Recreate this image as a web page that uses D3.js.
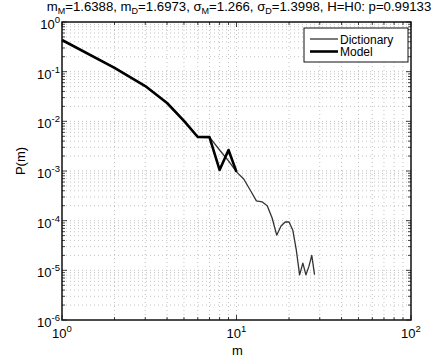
<!DOCTYPE html>
<html>
<head>
<meta charset="utf-8">
<script src="https://cdnjs.cloudflare.com/ajax/libs/d3/7.8.5/d3.min.js"></script>
<style>
  body { margin: 0; background: #fff; }
  svg { font-family: "Liberation Sans", Arial, sans-serif; }
</style>
</head>
<body>
<div id="chart"></div>
<script>
// word length m and the two distributions
const mValues = [1, 2, 3, 4, 5, 6, 7, 8, 9, 10, 11, 12, 13, 14, 15, 16, 17, 18, 19, 20, 21, 22, 23, 24, 25, 26, 27, 28];
const dictionary = [0.434, 0.121, 0.0514, 0.0234, 0.0102, 0.00484, 0.0048, 0.00265, 0.0016, 0.00096,
  0.00069, 0.00041, 0.00025, 0.00024, 0.0002, 0.000113, 0.000051, 0.000078, 0.000094, 0.000094,
  0.000065, 0.000026, 0.0000081, 0.000014, 0.0000081, 0.000012, 0.00002, 0.0000082];
const modelM = [1, 2, 3, 4, 5, 6, 7, 8, 9, 10];
const model = [0.434, 0.119, 0.0514, 0.0234, 0.0102, 0.00484, 0.0048, 0.00105, 0.00265, 0.00096];
const xTickExp = [0, 1, 2];
const yTickExp = [0, -1, -2, -3, -4, -5, -6];
const seriesNames = ['Dictionary', 'Model'];

const width = 446, height = 357
  , margin = {top: 22, right: 35, bottom: 37, left: 62}
  , cw = width - margin.left - margin.right
  , ch = height - margin.top - margin.bottom;

const x = d3.scaleLog().domain([1, 100]).range([0, cw])
  , y = d3.scaleLog().domain([1e-6, 1]).range([ch, 0]);

// minor positions for ticks and dotted grid
const xMinor = d3.range(0, 2).flatMap(e => d3.range(1, 10).map(k => k * Math.pow(10, e))).concat([100])
  , yMinor = d3.range(-6, 0).flatMap(e => d3.range(1, 10).map(k => k * Math.pow(10, e))).concat([1]);

const svg = d3.select('#chart').append('svg')
  .attr('width', width).attr('height', height);

// title with subscripts
const title = svg.append('text')
  .attr('x', 239).attr('y', 11)
  .attr('text-anchor', 'middle')
  .attr('font-size', 13.2).attr('fill', '#000');
[['m', 'M', '=1.6388, '], ['m', 'D', '=1.6973, '], ['\u03c3', 'M', '=1.266, '], ['\u03c3', 'D', '=1.3998, H=H0: p=0.99133']]
  .forEach(([a, s, b]) => {
    title.append('tspan').text(a);
    title.append('tspan').attr('dy', 3).attr('font-size', 9).text(s);
    title.append('tspan').attr('dy', -3).text(b);
  });

const g = svg.append('g').attr('transform', `translate(${margin.left},${margin.top})`);

// dotted grid
g.append('g').attr('class', 'grid')
  .selectAll('line.vx').data(xMinor.slice(1, -1))
  .join('line').attr('class', 'vx')
  .attr('x1', d => x(d)).attr('x2', d => x(d))
  .attr('y1', 0).attr('y2', ch);
g.select('g.grid')
  .selectAll('line.hy').data(yMinor.slice(1, -1))
  .join('line').attr('class', 'hy')
  .attr('y1', d => y(d)).attr('y2', d => y(d))
  .attr('x1', 0).attr('x2', cw);
g.selectAll('g.grid line')
  .attr('stroke', '#b4b4b4').attr('stroke-width', 0.8)
  .attr('stroke-dasharray', '1,3');

// inward ticks, all four sides
const isMajor = d => Math.abs(Math.log10(d) - Math.round(Math.log10(d))) < 1e-9;
const ticks = g.append('g').attr('stroke', '#111').attr('stroke-width', 0.8);
[0, ch].forEach((y0, i) => {
  ticks.selectAll(null).data(xMinor)
    .join('line')
    .attr('x1', d => x(d)).attr('x2', d => x(d))
    .attr('y1', y0).attr('y2', d => y0 + (i ? -1 : 1) * (isMajor(d) ? 5 : 3));
});
[0, cw].forEach((x0, i) => {
  ticks.selectAll(null).data(yMinor)
    .join('line')
    .attr('y1', d => y(d)).attr('y2', d => y(d))
    .attr('x1', x0).attr('x2', d => x0 + (i ? -1 : 1) * (isMajor(d) ? 5 : 3));
});

// curves
const line = d3.line().x(d => x(d[0])).y(d => y(d[1]));
const curves = [
  {name: 'Dictionary', pts: d3.zip(mValues, dictionary), stroke: '#333', w: 1.3},
  {name: 'Model', pts: d3.zip(modelM, model), stroke: '#000', w: 2.6}
];
g.selectAll('path.curve').data(curves)
  .join('path').attr('class', 'curve')
  .attr('d', d => line(d.pts))
  .attr('fill', 'none')
  .attr('stroke', d => d.stroke).attr('stroke-width', d => d.w)
  .attr('stroke-linejoin', 'round');

// frame
g.append('rect').attr('width', cw).attr('height', ch)
  .attr('fill', 'none').attr('stroke', '#111').attr('stroke-width', 1.5);

// tick labels: 10 with superscript exponent
const expLabel = (sel) => {
  sel.append('tspan').text('10');
  sel.append('tspan').attr('dy', -6).attr('font-size', 9.5).text(d => d);
};
svg.selectAll('text.xt').data(xTickExp)
  .join('text').attr('class', 'xt')
  .attr('x', d => margin.left + x(Math.pow(10, d)))
  .attr('y', margin.top + ch + 18)
  .attr('text-anchor', 'middle').attr('font-size', 13).attr('fill', '#000')
  .call(expLabel);
svg.selectAll('text.yt').data(yTickExp)
  .join('text').attr('class', 'yt')
  .attr('x', margin.left - 2)
  .attr('y', d => margin.top + y(Math.pow(10, d)) + 7)
  .attr('text-anchor', 'end').attr('font-size', 13).attr('fill', '#000')
  .call(expLabel);

// axis titles
svg.append('text')
  .attr('x', margin.left + cw / 2 + 1).attr('y', height - 2)
  .attr('text-anchor', 'middle').attr('font-size', 13).attr('fill', '#000')
  .text('m');
svg.append('text')
  .attr('transform', `translate(25,${margin.top + ch / 2 - 10}) rotate(-90)`)
  .attr('text-anchor', 'middle').attr('font-size', 13).attr('fill', '#000')
  .text('P(m)');

// legend
const lg = svg.append('g').attr('transform', `translate(${margin.left + cw - 107},${margin.top + 6})`);
lg.append('rect').attr('width', 104).attr('height', 34)
  .attr('fill', '#fff').attr('stroke', '#111').attr('stroke-width', 1);
lg.selectAll('g.item').data(curves)
  .join('g').attr('class', 'item')
  .attr('transform', (d, i) => `translate(0,${11 + i * 12.5})`)
  .each(function(d) {
    d3.select(this).append('line')
      .attr('x1', 6).attr('x2', 34).attr('y1', 0).attr('y2', 0)
      .attr('stroke', d.stroke).attr('stroke-width', d.w);
    d3.select(this).append('text')
      .attr('x', 36).attr('y', 4.5).attr('font-size', 12).attr('fill', '#000')
      .text(d.name);
  });
</script>
</body>
</html>
